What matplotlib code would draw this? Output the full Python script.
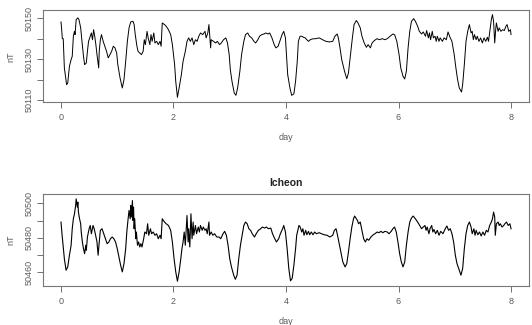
import matplotlib
matplotlib.use("Agg")
import matplotlib.pyplot as plt

# top station (day, nT)
top_day = [0.0, 0.01, 0.024, 0.04, 0.06, 0.10, 0.12, 0.15, 0.18, 0.20, 0.22, 0.24, 0.25, 0.27, 0.30,
           0.32, 0.35, 0.37, 0.40, 0.42, 0.45, 0.47, 0.49, 0.51, 0.54, 0.56, 0.58, 0.60, 0.62, 0.64,
           0.67, 0.68, 0.70, 0.72, 0.75, 0.78, 0.81, 0.84, 0.87, 0.90, 0.93, 0.96, 0.99, 1.01, 1.05,
           1.09, 1.12, 1.15, 1.18, 1.21, 1.24, 1.28, 1.30, 1.32, 1.35, 1.37, 1.40, 1.43, 1.46, 1.48,
           1.50, 1.53, 1.55, 1.58, 1.60, 1.62, 1.65, 1.67, 1.70, 1.73, 1.76, 1.78, 1.80, 1.84, 1.87,
           1.91, 1.95, 1.98, 2.02, 2.04, 2.07, 2.10, 2.14, 2.17, 2.21, 2.24, 2.27, 2.30, 2.33, 2.36,
           2.39, 2.42, 2.45, 2.48, 2.52, 2.56, 2.58, 2.61, 2.63, 2.66, 2.67, 2.71, 2.75, 2.78, 2.82,
           2.85, 2.89, 2.93, 2.96, 2.99, 3.01, 3.04, 3.08, 3.11, 3.14, 3.18, 3.21, 3.25, 3.28, 3.32,
           3.35, 3.39, 3.43, 3.46, 3.50, 3.53, 3.57, 3.61, 3.64, 3.68, 3.71, 3.75, 3.79, 3.82, 3.86,
           3.89, 3.93, 3.96, 3.99, 4.03, 4.07, 4.10, 4.14, 4.17, 4.20, 4.22, 4.25, 4.28, 4.31, 4.34,
           4.37, 4.40, 4.43, 4.47, 4.53, 4.59, 4.65, 4.71, 4.77, 4.83, 4.87, 4.91, 4.93, 4.96, 4.99,
           5.04, 5.08, 5.11, 5.14, 5.18, 5.21, 5.25, 5.28, 5.32, 5.35, 5.39, 5.43, 5.46, 5.50, 5.53,
           5.57, 5.62, 5.66, 5.71, 5.76, 5.80, 5.85, 5.90, 5.93, 5.97, 6.01, 6.04, 6.08, 6.11, 6.14,
           6.17, 6.20, 6.23, 6.27, 6.30, 6.34, 6.37, 6.41, 6.44, 6.48, 6.50, 6.53, 6.55, 6.57, 6.60,
           6.62, 6.65, 6.67, 6.69, 6.72, 6.74, 6.78, 6.81, 6.85, 6.88, 6.92, 6.95, 6.99, 7.02, 7.05,
           7.08, 7.12, 7.14, 7.17, 7.20, 7.23, 7.26, 7.29, 7.31, 7.33, 7.35, 7.38, 7.40, 7.43, 7.46,
           7.49, 7.52, 7.55, 7.58, 7.60, 7.63, 7.65, 7.67, 7.69, 7.71, 7.73, 7.74, 7.77, 7.79, 7.82,
           7.85, 7.88, 7.91, 7.93, 7.96, 7.99, 8.0]
top_nt = [50148.2, 50145.3, 50140.0, 50140.0, 50125.7, 50117.5, 50118.3, 50126.5, 50129.8, 50131.4,
          50141.2, 50143.6, 50142.0, 50149.3, 50150.2, 50149.3, 50145.3, 50139.5, 50131.4, 50127.3,
          50128.1, 50133.8, 50138.7, 50140.4, 50142.8, 50139.5, 50144.4, 50141.2, 50137.1, 50132.2,
          50125.7, 50133.8, 50139.5, 50142.0, 50138.7, 50136.3, 50133.8, 50130.6, 50132.2, 50133.8,
          50136.3, 50135.5, 50133.0, 50127.3, 50120.8, 50115.9, 50120.0, 50128.9, 50138.7, 50145.3,
          50148.2, 50148.5, 50146.9, 50142.0, 50136.3, 50133.8, 50133.0, 50132.2, 50133.8, 50139.5,
          50137.1, 50143.6, 50140.4, 50137.1, 50142.0, 50138.7, 50142.8, 50137.9, 50138.7, 50137.1,
          50138.7, 50136.3, 50147.7, 50146.9, 50146.1, 50144.4, 50142.0, 50137.1, 50127.3, 50119.1,
          50111.3, 50115.9, 50122.4, 50128.9, 50133.8, 50138.7, 50140.4, 50138.7, 50140.4, 50137.1,
          50139.5, 50138.7, 50141.2, 50142.8, 50142.0, 50143.6, 50140.4, 50142.8, 50146.9, 50135.5,
          50139.5, 50138.7, 50137.9, 50138.7, 50137.1, 50137.9, 50139.5, 50140.4, 50137.9, 50132.2,
          50124.9, 50119.1, 50113.4, 50112.3, 50115.9, 50124.1, 50132.2, 50138.7, 50142.0, 50142.8,
          50141.2, 50140.4, 50138.7, 50137.9, 50139.5, 50141.2, 50142.0, 50142.3, 50142.8, 50142.3,
          50142.8, 50140.4, 50137.1, 50135.5, 50136.3, 50138.7, 50142.0, 50143.6, 50140.4, 50122.4,
          50115.9, 50112.3, 50113.0, 50119.1, 50128.9, 50138.7, 50141.2, 50141.2, 50140.7, 50140.4,
          50139.5, 50138.7, 50139.5, 50139.9, 50140.0, 50140.4, 50139.5, 50138.7, 50138.4, 50138.7,
          50141.2, 50142.3, 50140.4, 50135.5, 50129.8, 50124.1, 50120.4, 50123.2, 50130.6, 50140.4,
          50146.9, 50148.9, 50147.7, 50145.3, 50141.2, 50137.9, 50135.8, 50137.1, 50135.5, 50137.9,
          50139.1, 50140.0, 50139.5, 50140.0, 50139.5, 50140.0, 50141.2, 50142.3, 50142.0, 50138.7,
          50132.2, 50125.7, 50121.6, 50120.3, 50124.1, 50135.5, 50143.6, 50148.5, 50149.8, 50148.5,
          50146.1, 50143.6, 50142.3, 50143.3, 50141.2, 50144.0, 50140.4, 50142.8, 50139.5, 50143.6,
          50140.4, 50141.2, 50138.7, 50141.2, 50138.7, 50140.4, 50138.7, 50140.4, 50139.5, 50143.3,
          50140.4, 50138.7, 50132.2, 50125.7, 50120.0, 50115.9, 50113.9, 50117.5, 50127.3, 50138.7,
          50143.6, 50146.9, 50142.8, 50143.6, 50139.5, 50142.0, 50139.5, 50141.2, 50138.7, 50140.4,
          50137.9, 50140.4, 50138.7, 50140.7, 50138.7, 50145.3, 50149.3, 50151.8, 50148.5, 50137.9,
          50145.3, 50147.7, 50143.6, 50145.3, 50143.6, 50144.4, 50144.0, 50146.1, 50146.9, 50143.6,
          50144.4, 50142.0]

# Icheon
bot_day = [0.0, 0.02, 0.06, 0.09, 0.12, 0.15, 0.18, 0.20, 0.22, 0.24, 0.26, 0.27, 0.29, 0.30, 0.31,
           0.33, 0.35, 0.36, 0.38, 0.40, 0.42, 0.44, 0.45, 0.47, 0.50, 0.52, 0.54, 0.57, 0.59, 0.61,
           0.64, 0.66, 0.68, 0.70, 0.73, 0.76, 0.79, 0.82, 0.85, 0.88, 0.91, 0.94, 0.97, 1.00, 1.03,
           1.06, 1.09, 1.12, 1.15, 1.17, 1.19, 1.21, 1.23, 1.24, 1.25, 1.27, 1.28, 1.29, 1.30, 1.31,
           1.33, 1.34, 1.36, 1.38, 1.40, 1.42, 1.44, 1.47, 1.49, 1.52, 1.54, 1.56, 1.59, 1.61, 1.64,
           1.67, 1.70, 1.73, 1.76, 1.78, 1.80, 1.84, 1.87, 1.91, 1.95, 1.98, 2.01, 2.04, 2.07, 2.10,
           2.13, 2.15, 2.17, 2.19, 2.21, 2.23, 2.24, 2.26, 2.27, 2.29, 2.31, 2.33, 2.35, 2.36, 2.39,
           2.41, 2.44, 2.46, 2.48, 2.51, 2.53, 2.56, 2.58, 2.60, 2.63, 2.64, 2.67, 2.70, 2.73, 2.77,
           2.81, 2.84, 2.88, 2.91, 2.94, 2.97, 3.00, 3.03, 3.07, 3.10, 3.13, 3.16, 3.19, 3.22, 3.25,
           3.28, 3.31, 3.34, 3.37, 3.40, 3.44, 3.47, 3.51, 3.55, 3.58, 3.62, 3.65, 3.69, 3.73, 3.76,
           3.80, 3.83, 3.87, 3.90, 3.94, 3.96, 3.99, 4.02, 4.05, 4.08, 4.11, 4.14, 4.17, 4.19, 4.21,
           4.23, 4.25, 4.28, 4.30, 4.32, 4.35, 4.37, 4.40, 4.42, 4.45, 4.48, 4.51, 4.54, 4.59, 4.63,
           4.68, 4.73, 4.78, 4.83, 4.86, 4.89, 4.91, 4.94, 4.98, 5.01, 5.05, 5.08, 5.11, 5.14, 5.17,
           5.20, 5.22, 5.25, 5.27, 5.29, 5.32, 5.35, 5.38, 5.41, 5.44, 5.47, 5.51, 5.54, 5.58, 5.62,
           5.65, 5.69, 5.72, 5.76, 5.80, 5.83, 5.87, 5.90, 5.93, 5.96, 5.99, 6.02, 6.05, 6.08, 6.11,
           6.14, 6.17, 6.20, 6.23, 6.26, 6.30, 6.34, 6.37, 6.41, 6.44, 6.47, 6.49, 6.51, 6.54, 6.56,
           6.59, 6.61, 6.63, 6.66, 6.69, 6.72, 6.75, 6.79, 6.83, 6.86, 6.89, 6.92, 6.95, 6.98, 7.01,
           7.04, 7.08, 7.11, 7.14, 7.17, 7.20, 7.23, 7.26, 7.29, 7.31, 7.34, 7.36, 7.38, 7.41, 7.44,
           7.47, 7.50, 7.53, 7.56, 7.59, 7.62, 7.65, 7.67, 7.69, 7.71, 7.72, 7.74, 7.77, 7.79, 7.81,
           7.84, 7.87, 7.89, 7.92, 7.95, 7.98, 8.0]
bot_nt = [50489.2, 50481.5, 50467.9, 50461.2, 50463.1, 50469.9, 50475.7, 50485.3, 50491.1, 50494.0,
          50498.8, 50502.7, 50497.9, 50500.8, 50495.0, 50491.1, 50488.2, 50483.4, 50477.6, 50473.7,
          50470.8, 50475.7, 50472.8, 50480.5, 50485.3, 50487.2, 50482.4, 50487.2, 50485.3, 50482.4,
          50477.6, 50469.9, 50477.6, 50484.4, 50485.3, 50482.4, 50479.5, 50476.6, 50477.6, 50479.5,
          50480.5, 50479.5, 50477.6, 50473.7, 50468.9, 50464.1, 50460.2, 50465.0, 50473.7, 50483.4,
          50490.1, 50496.0, 50491.1, 50498.8, 50492.1, 50501.7, 50490.1, 50497.9, 50485.3, 50491.1,
          50479.5, 50483.4, 50475.7, 50477.6, 50474.7, 50476.6, 50474.7, 50479.5, 50483.4, 50482.4,
          50488.2, 50481.5, 50485.3, 50482.4, 50483.4, 50481.5, 50482.4, 50479.5, 50481.5, 50479.5,
          50491.1, 50489.2, 50488.2, 50487.2, 50484.4, 50477.6, 50467.9, 50460.2, 50454.8, 50460.2,
          50467.9, 50473.7, 50477.6, 50483.4, 50475.7, 50487.2, 50493.0, 50477.6, 50485.3, 50474.7,
          50494.0, 50479.5, 50489.2, 50481.5, 50487.2, 50482.4, 50486.3, 50483.4, 50487.2, 50484.4,
          50486.3, 50484.4, 50485.3, 50482.4, 50489.2, 50481.5, 50483.4, 50481.5, 50482.4, 50480.5,
          50480.5, 50479.5, 50482.4, 50483.8, 50481.5, 50475.7, 50467.9, 50463.1, 50458.3, 50455.9,
          50458.3, 50467.9, 50475.7, 50481.5, 50487.2, 50489.2, 50488.2, 50485.3, 50484.4, 50482.4,
          50480.5, 50482.4, 50484.4, 50485.3, 50486.3, 50485.7, 50486.3, 50485.3, 50485.7, 50482.4,
          50479.5, 50477.6, 50479.5, 50482.4, 50485.3, 50487.2, 50483.4, 50473.7, 50462.1, 50455.0,
          50456.5, 50464.1, 50473.7, 50481.5, 50484.4, 50487.2, 50486.5, 50483.4, 50485.3, 50481.5,
          50484.4, 50481.8, 50483.8, 50481.8, 50483.4, 50481.8, 50483.4, 50482.4, 50483.0, 50482.4,
          50481.8, 50481.5, 50480.5, 50481.5, 50484.4, 50485.3, 50482.4, 50477.6, 50470.8, 50466.0,
          50463.1, 50465.0, 50471.8, 50479.5, 50486.3, 50491.1, 50492.7, 50491.1, 50490.1, 50488.2,
          50489.2, 50484.4, 50479.5, 50477.6, 50479.5, 50478.6, 50480.5, 50481.5, 50482.4, 50483.4,
          50483.0, 50483.8, 50483.0, 50483.8, 50483.4, 50482.4, 50483.8, 50485.3, 50486.3, 50483.4,
          50477.6, 50470.8, 50466.0, 50463.1, 50466.0, 50475.7, 50483.4, 50489.2, 50491.5, 50492.7,
          50491.1, 50489.2, 50487.6, 50485.3, 50486.3, 50487.2, 50484.4, 50486.3, 50482.4, 50485.3,
          50487.2, 50483.4, 50484.9, 50482.4, 50484.4, 50481.5, 50483.8, 50482.4, 50485.3, 50486.9,
          50484.4, 50485.3, 50482.4, 50477.6, 50469.9, 50465.0, 50461.2, 50458.3, 50462.1, 50473.7,
          50482.4, 50487.2, 50489.2, 50486.3, 50482.4, 50485.3, 50481.5, 50484.4, 50481.8, 50483.4,
          50481.1, 50483.4, 50481.5, 50484.4, 50483.4, 50487.2, 50489.2, 50491.1, 50495.0, 50492.1,
          50481.5, 50488.2, 50489.2, 50487.2, 50488.2, 50486.3, 50487.2, 50488.2, 50489.2, 50487.2,
          50488.2, 50485.3]

x_ticks = [0, 2, 4, 6, 8]
top_yticks = [50110, 50120, 50130, 50140, 50150]
top_ylabels = ["50110", "", "50130", "", "50150"]
bot_yticks = [50460, 50470, 50480, 50490, 50500]
bot_ylabels = ["50460", "", "50480", "", "50500"]

grey = "#5a5a5a"
plt.rcParams["font.family"] = ["Liberation Sans", "DejaVu Sans"]

fig = plt.figure(figsize=(5.32, 3.25), dpi=100)
ax1 = fig.add_axes([0.0808, 0.686, 0.9136, 0.283])
ax2 = fig.add_axes([0.0808, 0.12, 0.9136, 0.283])


def style(ax, yticks, ylabels, ylim):
    ax.set_xlim(-0.32, 8.32)
    ax.set_ylim(*ylim)
    ax.set_xticks(x_ticks)
    ax.set_xticklabels([str(t) for t in x_ticks])
    ax.set_yticks(yticks)
    ax.set_yticklabels(ylabels, rotation=90, va="center")
    ax.tick_params(length=4, width=0.6, color=grey, labelcolor=grey, labelsize=6.5)
    ax.tick_params(axis="x", pad=4)
    ax.tick_params(axis="y", pad=2.5)
    for s in ax.spines.values():
        s.set_color("#777777")
        s.set_linewidth(0.8)


ax1.plot(top_day, top_nt, color="black", lw=0.7)
style(ax1, top_yticks, top_ylabels, (50109, 50154))

ax2.plot(bot_day, bot_nt, color="black", lw=0.8)
style(ax2, bot_yticks, bot_ylabels, (50452, 50505.5))

xc = 0.5376
fig.text(xc, 1 - 138 / 325, "day", ha="center", va="center", fontsize=6.5, color=grey)
fig.text(xc, 1 - 322 / 325, "day", ha="center", va="center", fontsize=6.5, color=grey)
fig.text(11 / 532, 1 - 57 / 325, "nT", rotation=90, ha="center", va="center", fontsize=6.5, color=grey)
fig.text(11 / 532, 1 - 240 / 325, "nT", rotation=90, ha="center", va="center", fontsize=6.5, color=grey)
fig.text(xc, 1 - 183 / 325, "Icheon", ha="center", va="center", fontsize=7.5, fontweight="bold", color="#222222")

fig.savefig("out.png", dpi=100)
